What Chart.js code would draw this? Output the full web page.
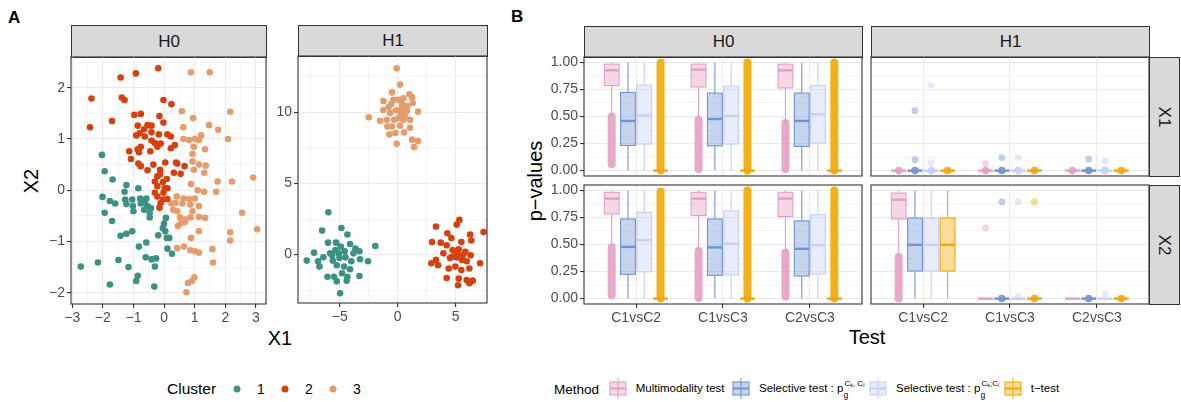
<!DOCTYPE html>
<html>
<head>
<meta charset="utf-8">
<script src="https://cdn.jsdelivr.net/npm/chart.js@4.4.1/dist/chart.umd.min.js"></script>
<style>
  body { margin: 0; width: 1181px; height: 402px; overflow: hidden; background: #fff; position: relative;
         font-family: "Liberation Sans", Arial, sans-serif; color: #000; }
  canvas { position: absolute; }
  .strip { position: absolute; box-sizing: border-box; background: #d9d9d9; border: 1px solid #333;
           color: #1a1a1a; font-size: 17px; display: flex; align-items: center; justify-content: center; }
  .strip.side span { transform: rotate(90deg); display: inline-block; }
  .lbl { position: absolute; white-space: nowrap; }
  .mid { transform: translate(-50%, -50%); }
  .vmid { transform: translateY(-50%); }
  .dot { position: absolute; width: 7px; height: 7px; border-radius: 50%; transform: translate(-50%, -50%); }
  .key { position: absolute; }
  .sc { position: relative; display: inline-block; width: 27px; height: 0; }
  .sc .sb { position: absolute; left: 0; top: -2px; font-size: 8.5px; }
  .sc .sp { position: absolute; left: 1px; top: -13px; font-size: 8px; }
  .sc .sp sub { font-size: 5.5px; vertical-align: -1px; }
</style>
</head>
<body>

<div class="lbl" style="left:8px;top:8px;font-weight:bold;font-size:17px">A</div>
<div class="lbl" style="left:511px;top:7px;font-weight:bold;font-size:17px">B</div>

<!-- strips -->
<div class="strip" style="left:71px;top:25px;width:196px;height:33px">H0</div>
<div class="strip" style="left:298px;top:25px;width:190px;height:32px">H1</div>
<div class="strip" style="left:584px;top:26px;width:279px;height:32px">H0</div>
<div class="strip" style="left:871px;top:26px;width:279px;height:32px">H1</div>
<div class="strip side" style="left:1149px;top:57px;width:31px;height:120px"><span>X1</span></div>
<div class="strip side" style="left:1149px;top:185px;width:31px;height:120px"><span>X2</span></div>

<!-- axis titles -->
<div class="lbl mid" style="left:280px;top:338px;font-size:20px">X1</div>
<div class="lbl mid" style="left:31px;top:181px;font-size:20px;transform:translate(-50%,-50%) rotate(-90deg)">X2</div>
<div class="lbl mid" style="left:867px;top:337px;font-size:20px">Test</div>
<div class="lbl mid" style="left:535px;top:181px;font-size:20px;transform:translate(-50%,-50%) rotate(-90deg)">p−values</div>

<!-- cluster legend -->
<div class="lbl vmid" style="left:167px;top:389px;font-size:15.5px">Cluster</div>
<div class="dot" style="left:237px;top:389px;background:#3b9184"></div>
<div class="lbl mid" style="left:261px;top:389px;font-size:14px">1</div>
<div class="dot" style="left:285px;top:389px;background:#d93f0b"></div>
<div class="lbl mid" style="left:309px;top:389px;font-size:14px">2</div>
<div class="dot" style="left:333px;top:389px;background:#e69b6b"></div>
<div class="lbl mid" style="left:357px;top:389px;font-size:14px">3</div>

<!-- method legend -->
<div class="lbl vmid" style="left:554px;top:389px;font-size:13.5px">Method</div>
<div id="methodLegend"></div>

<script>
// ---- panel A data ----
const clusterNames = ['1', '2', '3'];

const h0Cluster1 = [[-2.03,0.69],[-1.94,0.37],[-1.68,0.21],[-1.23,0.10],[-1.29,-0.03],[-0.84,0.04],[-2.01,-0.13],
  [-1.77,-0.21],[-1.60,-0.26],[-1.27,-0.18],[-1.23,-0.27],[-1.04,-0.18],[-1.02,-0.31],[-1.00,-0.41],[-0.76,-0.26],
  [-0.58,-0.16],[-0.63,-0.25],[-0.54,-0.31],[-0.65,-0.38],[-0.47,-0.44],[-0.47,-0.53],[-0.43,-0.35],[-1.94,-0.44],
  [-1.70,-0.60],[0.06,-0.54],[0.00,-0.65],[-0.04,-0.74],[0.04,-0.80],[0.17,-0.93],[0.09,-0.93],[-0.19,-0.88],
  [-1.42,-0.89],[-1.23,-0.85],[-1.04,-0.80],[-0.82,-1.10],[-0.58,-1.02],[0.11,-1.14],[0.26,-1.24],[-0.60,-1.31],
  [-0.41,-1.35],[-0.26,-1.33],[-0.30,-1.49],[-2.72,-1.49],[-2.16,-1.41],[-1.49,-1.36],[-1.16,-1.50],[-0.86,-1.67],
  [-0.91,-1.77],[-1.77,-1.84],[-0.32,-1.88],[-0.71,-0.23],[-0.78,-0.16]];
const h0Cluster2 = [[-0.19,2.38],[-0.92,2.28],[-1.42,2.20],[-2.37,1.79],[-1.38,1.81],[-1.29,1.76],[-0.02,1.76],
  [0.24,1.68],[-2.42,1.23],[-1.70,1.35],[-0.97,1.47],[-0.76,1.49],[-0.15,1.45],[-0.02,1.32],[-0.54,1.27],
  [-0.41,1.26],[-0.86,1.26],[-0.65,1.19],[-0.91,1.07],[-0.80,1.11],[-0.63,1.05],[-0.41,1.13],[-0.17,1.09],
  [0.11,1.09],[0.22,1.05],[0.35,0.88],[0.22,0.82],[-0.41,0.97],[-0.30,0.92],[-0.22,0.85],[-0.11,0.91],
  [-0.45,0.76],[-0.76,0.85],[-0.86,0.80],[-1.14,0.76],[-1.08,0.61],[-0.82,0.74],[-0.84,0.52],[-0.76,0.47],
  [-0.54,0.39],[-0.35,0.50],[0.04,0.54],[0.39,0.54],[0.43,0.52],[0.67,0.47],[0.54,0.32],[0.32,0.34],
  [-0.13,0.40],[-0.22,0.27],[-0.30,0.17],[-0.22,0.08],[-0.13,0.31],[-0.04,0.16],[0.02,0.04],[0.11,0.04],
  [-0.02,-0.05],[-0.22,-0.12],[-0.11,-0.25],[-0.15,-0.34],[-0.04,-0.18],[0.11,-0.17],[0.09,0.22],[-0.30,-0.05]];
const h0Cluster3 = [[0.88,2.30],[1.49,2.30],[0.58,1.54],[0.95,1.41],[2.16,1.53],[0.63,1.23],[1.47,1.27],
  [1.77,1.18],[2.09,1.00],[0.63,1.00],[0.82,0.98],[1.01,1.00],[1.21,1.07],[1.14,0.98],[0.97,0.85],[0.93,0.71],
  [1.34,0.80],[0.93,0.56],[1.14,0.50],[1.36,0.48],[0.97,0.40],[1.31,0.34],[1.75,0.17],[2.22,0.17],[2.91,0.25],
  [0.88,0.12],[1.10,0.00],[1.31,-0.03],[1.70,-0.03],[0.41,-0.12],[0.63,-0.16],[0.82,-0.17],[1.01,-0.16],
  [0.24,-0.26],[0.37,-0.25],[0.60,-0.26],[0.86,-0.28],[1.14,-0.31],[0.30,-0.38],[0.43,-0.41],[0.93,-0.41],
  [1.14,-0.52],[1.34,-0.54],[2.55,-0.44],[0.52,-0.53],[0.69,-0.57],[0.86,-0.53],[0.54,-0.65],[0.69,-0.62],
  [0.45,-0.70],[3.04,-0.76],[2.16,-0.82],[1.14,-0.80],[2.16,-0.98],[0.88,-0.93],[0.43,-1.13],[0.65,-1.10],
  [0.86,-1.17],[1.01,-1.19],[1.14,-1.22],[1.58,-1.15],[1.60,-1.41],[0.99,-1.70],[0.91,-1.77],[0.78,-1.81],[0.73,-1.99]];

const h1Cluster1 = [[-5.98,2.97],[-6.52,1.69],[-4.86,1.87],[-4.34,1.41],[-6.01,0.84],[-5.32,0.84],[-7.21,0.14],
  [-7.84,-0.42],[-6.87,-0.47],[-6.75,-0.84],[-6.41,-0.19],[-5.83,0.09],[-5.37,0.33],[-4.91,0.56],[-4.11,0.75],
  [-3.65,0.42],[-3.30,0.23],[-1.93,0.61],[-2.56,-0.47],[-3.25,-0.33],[-4.00,-0.47],[-4.51,-0.19],[-5.03,-0.23],
  [-5.60,-0.42],[-5.26,-0.75],[-4.63,-0.84],[-4.11,-1.03],[-6.06,-1.55],[-5.49,-1.55],[-4.80,-1.31],[-4.34,-1.55],
  [-3.30,-1.50],[-5.26,-1.88],[-4.40,-1.83],[-4.97,-2.72],[-5.09,0.09],[-4.57,0.23],[-5.66,-0.05],[-3.82,0.09]];
const h1Cluster2 = [[3.30,1.97],[5.32,2.44],[5.09,2.11],[4.28,1.50],[4.63,1.17],[6.24,1.41],[7.40,1.59],
  [2.96,0.89],[3.71,0.84],[4.22,0.66],[5.49,0.89],[6.35,0.99],[4.74,0.33],[5.26,0.37],[5.83,0.19],[6.29,-0.05],
  [3.94,0.09],[3.30,-0.37],[2.90,-0.61],[3.48,-0.75],[4.51,-0.23],[5.09,-0.19],[5.55,-0.37],[5.95,-0.47],
  [7.10,-0.61],[4.40,-0.98],[4.97,-0.84],[5.49,-1.08],[6.18,-0.98],[4.22,-1.64],[5.26,-1.69],[5.95,-1.78],
  [6.47,-1.83],[6.18,-2.01],[5.20,-2.15],[4.74,-0.14],[5.15,0.09],[5.60,-0.05]];
const h1Cluster3 = [[-0.09,13.1],[0.20,11.95],[-0.49,11.4],[-2.50,9.65],[-1.52,9.41],[-1.24,10.8],[-0.78,10.38],
  [-0.37,10.89],[0.03,10.89],[0.49,10.99],[1.01,11.27],[1.29,10.66],[1.75,10.05],[-0.66,9.95],[-0.14,10.14],
  [0.32,10.28],[0.78,10.10],[-0.95,9.48],[-0.32,9.48],[0.09,9.58],[0.49,9.48],[1.06,9.48],[-0.49,9.01],
  [0.20,9.06],[1.06,8.92],[-0.72,8.45],[-0.20,8.54],[0.55,8.59],[-0.09,7.79],[1.24,8.08],[1.75,7.98],
  [1.41,7.56],[-1.24,10.16],[-0.55,10.59],[0.37,10.59],[0.83,10.45],[1.24,11.05],[-0.89,9.01],[0.26,9.95],[0.60,9.72]];

const h0XTicks = [-3, -2, -1, 0, 1, 2, 3];
const h0YTicks = [-2, -1, 0, 1, 2];
const h1XTicks = [-5, 0, 5];
const h1YTicks = [0, 5, 10];

// ---- panel B data ----
const tests = ['C1vsC2', 'C1vsC3', 'C2vsC3'];
const methods = ['Multimodality test', 'Selective test k,l', 'Selective test k;l', 't−test'];
const pTicks = [0, 0.25, 0.5, 0.75, 1];

// per method, per test: [lowWhisker, q1, median, q3, highWhisker]
const statsH0X1 = [
  [[0.50,0.786,0.927,0.984,1],[0.47,0.773,0.933,0.984,1],[0.44,0.764,0.927,0.984,1]],
  [[0,0.232,0.459,0.722,1],[0,0.229,0.477,0.716,1],[0,0.223,0.459,0.716,1]],
  [[0,0.245,0.51,0.79,1],[0,0.245,0.505,0.78,1],[0,0.254,0.52,0.786,1]],
  [[0,0,0,0,0],[0,0,0,0,0],[0,0,0,0,0]]];
const statsH0X2 = [
  [[0.475,0.782,0.924,0.982,1],[0.44,0.767,0.924,0.982,1],[0.425,0.758,0.924,0.982,1]],
  [[0,0.224,0.478,0.736,1],[0,0.215,0.473,0.736,1],[0,0.209,0.46,0.718,1]],
  [[0,0.248,0.54,0.797,1],[0,0.22,0.506,0.81,1],[0,0.227,0.494,0.776,1]],
  [[0,0,0,0,0],[0,0,0,0,0],[0,0,0,0,0]]];
const statsH1X1 = [
  [[0,0,0,0,0],[0,0,0,0,0],[0,0,0,0,0]],
  [[0,0,0,0,0],[0,0,0,0,0],[0,0,0,0,0]],
  [[0,0,0,0,0],[0,0,0,0,0],[0,0,0,0,0]],
  [[0,0,0,0,0],[0,0,0,0,0],[0,0,0,0,0]]];
const statsH1X2 = [
  [[0.385,0.736,0.914,0.975,1],[0,0,0,0,0],[0,0,0,0,0]],
  [[0,0.255,0.497,0.745,1],[0,0,0,0,0],[0,0,0,0,0]],
  [[0,0.255,0.497,0.745,1],[0,0,0,0,0],[0,0,0,0,0]],
  [[0,0.255,0.497,0.745,1],[0,0,0,0,0],[0,0,0,0,0]]];

// dense runs of outliers: [testIndex, methodIndex, from, to]
const bandsH0X1 = [[0,0,0.06,0.50],[1,0,0.015,0.47],[2,0,0.015,0.44],[0,3,0,1],[1,3,0,1],[2,3,0,1]];
const bandsH0X2 = [[0,0,0.03,0.475],[1,0,0.005,0.44],[2,0,0.02,0.425],[0,3,0,0.99],[1,3,0,1],[2,3,0,1]];
const bandsH1X1 = [[0,0,0,0],[0,1,0,0],[0,2,0,0],[0,3,0,0],[1,0,0,0],[1,1,0,0],[1,2,0,0],[1,3,0,0],
  [2,0,0,0],[2,1,0,0],[2,2,0,0],[2,3,0,0]];
const bandsH1X2 = [[0,0,0.0,0.385],[1,1,0,0],[1,3,0,0],[2,1,0,0],[2,3,0,0]];

// single outliers: [testIndex, methodIndex, value]
const outH1X1 = [[0,1,0.553],[0,2,0.79],[0,1,0.10],[0,2,0.07],[1,0,0.064],[1,1,0.12],[1,2,0.12],[2,1,0.107],[2,2,0.09]];
const outH1X2 = [[1,0,0.653],[1,1,0.893],[1,2,0.893],[1,3,0.893],[1,2,0.02],[2,2,0.043]];

// ---- styling ----
const FONT = '"Liberation Sans", Arial, sans-serif';
const clusterColors = ['#3b9184', '#d93f0b', '#e69b6b'];
const methodColors = [[230,158,196], [111,148,214], [197,207,248], [244,169,0]];
const rgba = (c, a) => `rgba(${c[0]},${c[1]},${c[2]},${a})`;
const DODGE = 0.1875, BOXW = 0.17;
const fmtNum = v => (v < 0 ? '−' + Math.abs(v) : String(v));

function scaleCfg(axis, min, max, majors, minors, size, showLabels, fmt) {
  const all = majors.concat(minors).sort((a, b) => a - b);
  const isMajor = v => majors.some(m => Math.abs(m - v) < 1e-9);
  return {
    type: 'linear', min, max,
    afterBuildTicks: s => { s.ticks = all.map(v => ({ value: v })); },
    afterFit: s => { if (axis === 'x') s.height = size; else s.width = size; },
    border: { display: false },
    grid: {
      color: '#ebebeb',
      lineWidth: c => (c.tick && isMajor(c.tick.value) ? 1.1 : 0.55),
      drawTicks: showLabels, tickLength: 4, tickWidth: 1.1,
      tickColor: c => (c.tick && isMajor(c.tick.value) ? '#333' : 'rgba(0,0,0,0)')
    },
    ticks: {
      display: showLabels, autoSkip: false, maxRotation: 0, minRotation: 0, padding: 2,
      color: '#4d4d4d', font: { size: 14, family: FONT },
      callback: v => (isMajor(v) ? fmt(v) : '')
    }
  };
}

const borderPlugin = {
  id: 'panelBorder',
  afterDraw(chart) {
    const a = chart.chartArea, ctx = chart.ctx;
    ctx.save();
    ctx.strokeStyle = '#333';
    ctx.lineWidth = 1.1;
    ctx.strokeRect(a.left, a.top, a.right - a.left, a.bottom - a.top);
    ctx.restore();
  }
};

const boxPlugin = {
  id: 'boxes',
  afterDatasetsDraw(chart, args, opts) {
    if (!opts.stats) return;
    const { ctx, scales: { x, y } } = chart;
    const px = (t, m) => x.getPixelForValue(t + 1 + (m - 1.5) * DODGE);
    const hw = (x.getPixelForValue(BOXW) - x.getPixelForValue(0)) / 2;
    ctx.save();
    opts.bands.forEach(([t, m, lo, hi]) => {
      const cx = px(t, m), y0 = y.getPixelForValue(lo), y1 = y.getPixelForValue(hi);
      ctx.fillStyle = rgba(methodColors[m], 0.9);
      ctx.strokeStyle = rgba(methodColors[m], 0.9);
      if (Math.abs(y0 - y1) < 0.5) {
        ctx.beginPath(); ctx.arc(cx, y0, 3.8, 0, Math.PI * 2); ctx.fill();
      } else {
        ctx.lineWidth = 8; ctx.lineCap = 'round';
        ctx.beginPath(); ctx.moveTo(cx, y0); ctx.lineTo(cx, y1); ctx.stroke();
      }
    });
    ctx.lineCap = 'butt';
    opts.stats.forEach((list, m) => list.forEach(([lo, q1, med, q3, hi], t) => {
      const cx = px(t, m);
      const col = rgba(methodColors[m], 1);
      ctx.strokeStyle = col;
      ctx.lineWidth = 1.1;
      ctx.beginPath();
      ctx.moveTo(cx, y.getPixelForValue(lo)); ctx.lineTo(cx, y.getPixelForValue(q1));
      ctx.moveTo(cx, y.getPixelForValue(q3)); ctx.lineTo(cx, y.getPixelForValue(hi));
      ctx.stroke();
      const top = y.getPixelForValue(q3), bot = y.getPixelForValue(q1);
      ctx.fillStyle = rgba(methodColors[m], 0.4);
      ctx.fillRect(cx - hw, top, hw * 2, bot - top);
      ctx.strokeRect(cx - hw, top, hw * 2, bot - top);
      ctx.lineWidth = 2.4;
      ctx.beginPath();
      ctx.moveTo(cx - hw, y.getPixelForValue(med)); ctx.lineTo(cx + hw, y.getPixelForValue(med));
      ctx.stroke();
    }));
    ctx.restore();
  }
};

function makeChart(plot, yw, xh, xCfg, yCfg, datasets, boxes) {
  const M = 12;
  const W = plot.w + yw + 2 * M, H = plot.h + xh + 2 * M;
  const c = document.createElement('canvas');
  c.width = W; c.height = H;
  c.style.left = (plot.x - yw - M) + 'px';
  c.style.top = (plot.y - M) + 'px';
  c.style.width = W + 'px'; c.style.height = H + 'px';
  document.body.appendChild(c);
  return new Chart(c, {
    type: 'scatter',
    data: { datasets },
    options: {
      responsive: false, animation: false,
      layout: { padding: M },
      plugins: { legend: { display: false }, tooltip: { enabled: false }, boxes: boxes || {} },
      scales: { x: xCfg, y: yCfg }
    },
    plugins: [boxPlugin, borderPlugin]
  });
}

const clusterSets = lists => lists.map((pts, i) => ({
  label: clusterNames[i],
  data: pts.map(p => ({ x: p[0], y: p[1] })),
  backgroundColor: clusterColors[i], borderWidth: 0, pointRadius: 3.3
}));

// Panel A
makeChart({ x: 71, y: 57, w: 195, h: 247 }, 34, 24,
  scaleCfg('x', -3.04, 3.33, h0XTicks, [-2.5, -1.5, -0.5, 0.5, 1.5, 2.5], 24, true, fmtNum),
  scaleCfg('y', -2.22, 2.6, h0YTicks, [-1.5, -0.5, 0.5, 1.5, 2.5], 34, true, fmtNum),
  clusterSets([h0Cluster1, h0Cluster2, h0Cluster3]));
makeChart({ x: 298, y: 56, w: 189, h: 247 }, 34, 24,
  scaleCfg('x', -8.6, 7.7, h1XTicks, [-7.5, -2.5, 2.5, 7.5], 24, true, fmtNum),
  scaleCfg('y', -3.4, 13.96, h1YTicks, [-2.5, 2.5, 7.5, 12.5], 34, true, fmtNum),
  clusterSets([h1Cluster1, h1Cluster2, h1Cluster3]));

// Panel B
const outlierSets = list => methods.map((name, m) => ({
  label: name,
  data: list.filter(o => o[1] === m).map(o => ({ x: o[0] + 1 + (m - 1.5) * DODGE, y: o[2] })),
  backgroundColor: rgba(methodColors[m], 0.45), borderWidth: 0, pointRadius: 3.4
}));
const pMinors = [0.125, 0.375, 0.625, 0.875];
const fmtP = v => v.toFixed(2);
const fmtTest = v => tests[Math.round(v) - 1];

const bPanels = [
  { plot: { x: 584, y: 57, w: 278, h: 119 }, left: true, bottom: false, stats: statsH0X1, bands: bandsH0X1, out: [] },
  { plot: { x: 871, y: 57, w: 278, h: 119 }, left: false, bottom: false, stats: statsH1X1, bands: bandsH1X1, out: outH1X1 },
  { plot: { x: 584, y: 185, w: 278, h: 119 }, left: true, bottom: true, stats: statsH0X2, bands: bandsH0X2, out: [] },
  { plot: { x: 871, y: 185, w: 278, h: 119 }, left: false, bottom: true, stats: statsH1X2, bands: bandsH1X2, out: outH1X2 }
];
bPanels.forEach(p => {
  const yw = p.left ? 45 : 0, xh = p.bottom ? 24 : 0;
  makeChart(p.plot, yw, xh,
    scaleCfg('x', 0.4, 3.6, [1, 2, 3], [], xh, p.bottom, fmtTest),
    scaleCfg('y', -0.05, 1.05, pTicks, pMinors, yw, p.left, fmtP),
    outlierSets(p.out),
    { stats: p.stats, bands: p.bands });
});

// method legend keys
const legendPos = [617.7, 741, 878, 1012.7];
const legendHtml = [
  'Multimodality test',
  'Selective test : p<span class="sc"><span class="sp">C<sub>k</sub>, C<sub>l</sub></span><span class="sb">g</span></span>',
  'Selective test : p<span class="sc"><span class="sp">C<sub>k</sub>;C<sub>l</sub></span><span class="sb">g</span></span>',
  't−test'
];
const legend = document.getElementById('methodLegend');
methods.forEach((m, i) => {
  const c = methodColors[i];
  const cx = legendPos[i];
  legend.insertAdjacentHTML('beforeend',
    `<svg class="key" style="left:${cx - 9}px;top:378px" width="18" height="21">
       <line x1="9" y1="0" x2="9" y2="21" stroke="${rgba(c, 1)}" stroke-width="1.1"/>
       <rect x="1" y="4" width="16" height="13" fill="${rgba(c, 0.4)}" stroke="${rgba(c, 1)}" stroke-width="1.1"/>
       <line x1="1" y1="10.5" x2="17" y2="10.5" stroke="${rgba(c, 1)}" stroke-width="2"/>
     </svg>
     <div class="lbl vmid" style="left:${cx + 18}px;top:388px;font-size:11.5px">${legendHtml[i]}</div>`);
});
</script>
</body>
</html>
